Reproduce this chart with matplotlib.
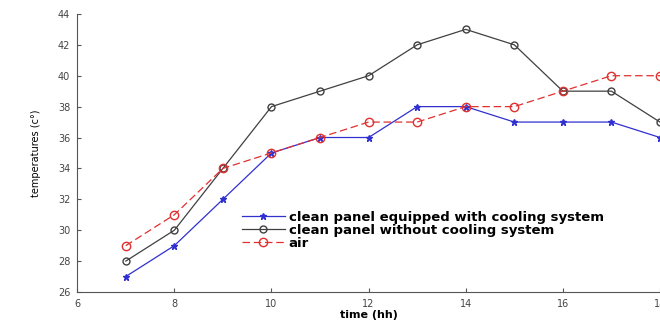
import matplotlib
matplotlib.use("Agg")
import matplotlib.pyplot as plt

hours = [7, 8, 9, 10, 11, 12, 13, 14, 15, 16, 17, 18]
cooled = [27, 29, 32, 35, 36, 36, 38, 38, 37, 37, 37, 36]
uncooled = [28, 30, 34, 38, 39, 40, 42, 43, 42, 39, 39, 37]
air = [29, 31, 34, 35, 36, 37, 37, 38, 38, 39, 40, 40]
xticks = [6, 8, 10, 12, 14, 16, 18]
yticks = [26, 28, 30, 32, 34, 36, 38, 40, 42, 44]

fig = plt.figure(figsize=(6.6, 3.2), dpi=100)
ax = fig.add_axes([0.117, 0.0875, 0.883, 0.869])

ax.plot(hours, cooled, color="#3030d0", marker="*", markersize=5, lw=0.9,
        label="clean panel equipped with cooling system")
ax.plot(hours, uncooled, color="#404040", marker="o", markersize=5, mfc="none",
        lw=0.9, label="clean panel without cooling system")
ax.plot(hours, air, color="#e03030", marker="o", markersize=6, mfc="none",
        lw=0.9, ls=(0, (6, 3)), label="air")

ax.set_xlim(6, 18)
ax.set_ylim(26, 44)
ax.set_xticks(xticks)
ax.set_yticks(yticks)
ax.tick_params(direction="in", labelsize=7, length=3, colors="#555555",
               labelcolor="#444444", pad=5)
for s in ["top", "right"]:
    ax.spines[s].set_visible(False)
for s in ["left", "bottom"]:
    ax.spines[s].set_color("#555555")
ax.set_xlabel("time (hh)", fontsize=8, fontweight="bold", labelpad=1)
ax.set_ylabel("temperatures (c°)", fontsize=7, labelpad=12)

ax.legend(loc="upper left", bbox_to_anchor=(0.272, 0.315), frameon=False,
          handlelength=3.2, handletextpad=0.3, labelspacing=0.0,
          borderpad=0, prop={"weight": "bold", "size": 9.5})

fig.savefig("out.png", dpi=100)
